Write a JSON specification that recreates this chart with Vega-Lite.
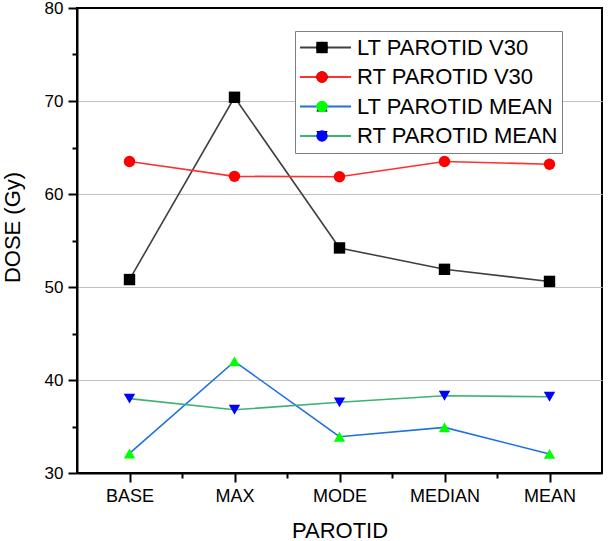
{
  "$schema": "https://vega.github.io/schema/vega-lite/v6.json",
  "width": 525,
  "height": 465,
  "autosize": "none",
  "padding": {"left": 77, "top": 8, "right": 12, "bottom": 68},
  "background": "white",
  "config": {
    "font": "Liberation Sans",
    "view": {"stroke": "black", "strokeWidth": 2}
  },
  "data": {
    "values": [
      {"series": "LT PAROTID V30", "stat": "BASE", "order": 1, "dose": 50.8},
      {"series": "LT PAROTID V30", "stat": "MAX", "order": 2, "dose": 70.4},
      {"series": "LT PAROTID V30", "stat": "MODE", "order": 3, "dose": 54.2},
      {"series": "LT PAROTID V30", "stat": "MEDIAN", "order": 4, "dose": 51.9},
      {"series": "LT PAROTID V30", "stat": "MEAN", "order": 5, "dose": 50.6},
      {"series": "RT PAROTID V30", "stat": "BASE", "order": 1, "dose": 63.5},
      {"series": "RT PAROTID V30", "stat": "MAX", "order": 2, "dose": 61.9},
      {"series": "RT PAROTID V30", "stat": "MODE", "order": 3, "dose": 61.85},
      {"series": "RT PAROTID V30", "stat": "MEDIAN", "order": 4, "dose": 63.5},
      {"series": "RT PAROTID V30", "stat": "MEAN", "order": 5, "dose": 63.2},
      {"series": "LT PAROTID MEAN", "stat": "BASE", "order": 1, "dose": 32.1},
      {"series": "LT PAROTID MEAN", "stat": "MAX", "order": 2, "dose": 42.0},
      {"series": "LT PAROTID MEAN", "stat": "MODE", "order": 3, "dose": 33.9},
      {"series": "LT PAROTID MEAN", "stat": "MEDIAN", "order": 4, "dose": 34.9},
      {"series": "LT PAROTID MEAN", "stat": "MEAN", "order": 5, "dose": 32.05},
      {"series": "RT PAROTID MEAN", "stat": "BASE", "order": 1, "dose": 38.0},
      {"series": "RT PAROTID MEAN", "stat": "MAX", "order": 2, "dose": 36.8},
      {"series": "RT PAROTID MEAN", "stat": "MODE", "order": 3, "dose": 37.6},
      {"series": "RT PAROTID MEAN", "stat": "MEDIAN", "order": 4, "dose": 38.3},
      {"series": "RT PAROTID MEAN", "stat": "MEAN", "order": 5, "dose": 38.2}
    ]
  },
  "encoding": {
    "x": {
      "field": "order",
      "type": "quantitative",
      "scale": {"domain": [0.5, 5.5], "nice": false, "zero": false},
      "axis": {
        "title": "PAROTID",
        "values": [1, 1.5, 2, 2.5, 3, 3.5, 4, 4.5, 5],
        "labelExpr": "datum.value % 1 ? '' : ['', 'BASE', 'MAX', 'MODE', 'MEDIAN', 'MEAN'][datum.value]",
        "grid": false,
        "domainColor": "black",
        "domainWidth": 2,
        "tickColor": "black",
        "tickWidth": 2,
        "tickSize": {"condition": {"test": "datum.value % 1", "value": 5}, "value": 9},
        "labelFontSize": 18,
        "labelColor": "black",
        "labelPadding": 5,
        "labelFlush": false,
        "labelOverlap": false,
        "titleFontSize": 22,
        "titleFontWeight": "normal",
        "titleColor": "black",
        "titlePadding": 15
      }
    },
    "y": {
      "field": "dose",
      "type": "quantitative",
      "scale": {"domain": [30, 80], "nice": false, "zero": false},
      "axis": {
        "title": "DOSE (Gy)",
        "values": [30, 35, 40, 45, 50, 55, 60, 65, 70, 75, 80],
        "labelExpr": "datum.value % 10 ? '' : datum.value",
        "grid": true,
        "gridColor": "#c0c0c0",
        "gridWidth": 1,
        "gridOpacity": {"condition": {"test": "datum.value % 10 || datum.value == 30 || datum.value == 80", "value": 0}, "value": 1},
        "domainColor": "black",
        "domainWidth": 2,
        "tickColor": "black",
        "tickWidth": 2,
        "tickSize": {"condition": {"test": "datum.value % 10", "value": 5}, "value": 9},
        "labelFontSize": 17,
        "labelColor": "black",
        "labelPadding": 5,
        "labelFlush": false,
        "labelOverlap": false,
        "titleFontSize": 22,
        "titleFontWeight": "normal",
        "titleColor": "black",
        "titlePadding": 20,
        "titleY": 219
      }
    }
  },
  "layer": [
    {
      "mark": {"type": "line", "strokeWidth": 1.6},
      "encoding": {
        "color": {
          "field": "series",
          "type": "nominal",
          "scale": {
            "domain": ["LT PAROTID V30", "RT PAROTID V30", "LT PAROTID MEAN", "RT PAROTID MEAN"],
            "range": ["#404040", "#ff3030", "#2070e0", "#3cb371"]
          },
          "legend": {
            "title": null,
            "orient": "none",
            "legendX": 218,
            "legendY": 23,
            "symbolType": "stroke",
            "symbolSize": 2601,
            "symbolStrokeWidth": 2,
            "labelFontSize": 22,
            "labelColor": "black",
            "labelLimit": 400,
            "labelOffset": 5,
            "rowPadding": 4.5,
            "padding": 4,
            "strokeColor": "#808080",
            "fillColor": "white",
            "clipHeight": 25
          }
        }
      }
    },
    {
      "mark": {"type": "point", "filled": true, "opacity": 1, "strokeWidth": 0},
      "encoding": {
        "fill": {
          "field": "series",
          "type": "nominal",
          "sort": ["LT PAROTID V30", "RT PAROTID V30", "LT PAROTID MEAN", "RT PAROTID MEAN"],
          "scale": {
            "range": ["#000000", "#ff0000", "#00ff00", "#0000ff"]
          },
          "legend": {
            "title": null,
            "orient": "none",
            "legendX": 230,
            "legendY": 23,
            "labelExpr": "''",
            "symbolSize": 130,
            "symbolStrokeWidth": 0,
            "symbolOpacity": 1,
            "labelFontSize": 22,
            "rowPadding": 4.5,
            "padding": 4,
            "clipHeight": 25
          }
        },
        "shape": {
          "field": "series",
          "type": "nominal",
          "sort": ["LT PAROTID V30", "RT PAROTID V30", "LT PAROTID MEAN", "RT PAROTID MEAN"],
          "scale": {
            "range": ["square", "circle", "triangle-up", "triangle-down"]
          },
          "legend": {
            "title": null,
            "orient": "none",
            "legendX": 230,
            "legendY": 23,
            "labelExpr": "''",
            "symbolSize": 130,
            "symbolStrokeWidth": 0,
            "symbolOpacity": 1,
            "labelFontSize": 22,
            "rowPadding": 4.5,
            "padding": 4,
            "clipHeight": 25
          }
        },
        "size": {"value": 130}
      }
    }
  ]
}
